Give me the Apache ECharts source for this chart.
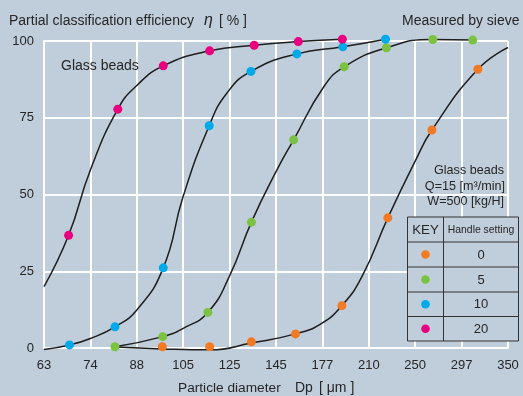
<!DOCTYPE html>
<html><head><meta charset="utf-8">
<script src="https://cdn.jsdelivr.net/npm/echarts@6/dist/echarts.min.js"></script>
<style>html,body{margin:0;padding:0;background:#c0cddb}#c{width:523px;height:396px}</style>
</head><body><div id="c"></div>
<script>
// x positions are in sieve-scale steps (0 = 63 µm, 10 = 350 µm); y = efficiency %
const xTickLabels = ['63','74','88','105','125','145','177','210','250','297','350'];
const handleSettings = ['0','5','10','20'];
const dotColors = ['#f37a24','#7cc242','#00a9e8','#e8007f'];

const points0  = [[2.55,0.4],[3.57,0.4],[4.47,2.0],[5.42,4.6],[6.42,13.8],[7.41,42.4],[8.36,71.0],[9.35,90.8]];
const points5  = [[1.53,0.4],[2.56,3.7],[3.53,11.6],[4.47,41.0],[5.38,67.8],[6.47,91.6],[7.38,97.8],[8.38,100.5],[9.24,100.3]];
const points10 = [[0.55,1.0],[1.53,6.9],[2.57,26.1],[3.56,72.4],[4.46,90.1],[5.45,95.8],[6.44,98.1],[7.36,100.6]];
const points20 = [[0.53,36.7],[1.59,77.8],[2.57,91.9],[3.57,96.8],[4.53,98.6],[5.48,99.8],[6.43,100.6]];

const curve0  = [[1.55,0.3],[2.55,-0.3],[3.57,-0.6],[4.47,1.6],[5.42,4.6],[5.96,7.8],[6.42,13.8],[6.86,23.5],[7.41,42.4],[8.01,61.2],[8.36,71.0],[9.35,90.8],[10,97.9]];
const curve5  = [[1.53,0.4],[2.56,3.7],[3.0,6.4],[3.53,11.6],[4.0,23.5],[4.47,41.0],[5.02,58.0],[5.38,67.8],[6.03,85.1],[6.47,91.6],[7.38,97.8],[8.38,100.5],[9.24,100.3]];
const curve10 = [[0,-0.5],[0.55,1.0],[1.0,3.1],[1.53,6.9],[2.0,12.4],[2.57,26.1],[3.0,49.4],[3.56,72.4],[3.94,83.0],[4.46,90.1],[5.45,95.8],[6.44,98.1],[7.36,100.6]];
const curve20 = [[0,20.0],[0.53,36.7],[1.0,58.0],[1.59,77.8],[2.0,85.5],[2.57,91.9],[3.57,96.8],[4.53,98.6],[5.48,99.8],[6.43,100.6]];

const pointSets = [points0, points5, points10, points20];
const curveSets = [curve0, curve5, curve10, curve20];

const BG = '#c0cddb';
const TXT = '#262626';
const FONT = '"Liberation Sans", Arial, sans-serif';

const series = [];
curveSets.forEach(function (c) {
  series.push({
    type: 'line', data: c, smooth: 0.5, showSymbol: false, clip: false,
    lineStyle: { color: '#1e1e1e', width: 1.5 }, z: 3, silent: true
  });
});
pointSets.forEach(function (p, i) {
  series.push({
    type: 'scatter', data: p, symbolSize: 9, clip: false,
    itemStyle: { color: dotColors[i], opacity: 1 }, z: 5
  });
});

function txt(x, y, text, size, align, extra) {
  return Object.assign({
    type: 'text', x: x, y: y, z: 20,
    style: { text: text, font: size + 'px ' + FONT, fill: TXT, align: align || 'left', textAlign: align || 'left', verticalAlign: 'middle', textVerticalAlign: 'middle' }
  }, extra || {});
}

const tblX = 407.5, tblY = 217, tblW = 111, colX = 443.5;
const rowYs = [217, 242, 267, 292, 316.5, 341];
const graphics = [
  txt(9, 21, 'Partial classification efficiency', 14),
  { type: 'text', x: 204, y: 21, z: 20, style: { text: 'η', font: 'italic 16px ' + FONT, fill: TXT, verticalAlign: 'middle', textVerticalAlign: 'middle' } },
  txt(219, 21, '[ % ]', 14),
  txt(519.5, 21, 'Measured by sieve', 14, 'right'),
  txt(61, 66, 'Glass beads', 14),
  txt(178, 388, 'Particle diameter', 13.7),
  txt(295, 388, 'Dp', 14),
  txt(319, 388, '[ μm ]', 14),
  txt(504, 171, 'Glass beads', 12.6, 'right'),
  txt(505, 186.5, 'Q=15 [m³/min]', 12.6, 'right'),
  txt(504, 202, 'W=500 [kg/H]', 12.6, 'right'),
  { type: 'rect', z: 15, shape: { x: tblX, y: tblY, width: tblW, height: rowYs[5] - tblY }, style: { fill: BG, stroke: '#333', lineWidth: 1 } },
  { type: 'line', z: 16, shape: { x1: colX, y1: tblY, x2: colX, y2: rowYs[5] }, style: { stroke: '#333', lineWidth: 1 } },
  txt(425.5, 230, 'KEY', 13.3, 'center'),
  txt(481, 230, 'Handle setting', 10.4, 'center')
];
for (let r = 1; r <= 4; r++) {
  graphics.push({ type: 'line', z: 16, shape: { x1: tblX, y1: rowYs[r], x2: tblX + tblW, y2: rowYs[r] }, style: { stroke: '#333', lineWidth: 1 } });
}
handleSettings.forEach(function (h, i) {
  const cy = (rowYs[i + 1] + rowYs[i + 2]) / 2;
  graphics.push({ type: 'circle', z: 17, shape: { cx: 425.5, cy: cy, r: 4.3 }, style: { fill: dotColors[i] } });
  graphics.push(txt(481, cy + 0.5, h, 13, 'center'));
});

const chart = echarts.init(document.getElementById('c'), null, { renderer: 'canvas' });
chart.setOption({
  backgroundColor: BG,
  animation: false,
  grid: { left: 44, right: 15, top: 41, bottom: 48 },
  xAxis: {
    type: 'value', min: 0, max: 10, interval: 1,
    axisLine: { show: true, lineStyle: { color: '#ffffff', width: 2 } },
    axisTick: { show: false },
    axisLabel: { color: TXT, fontSize: 13, fontFamily: FONT, margin: 11, formatter: function (v) { return xTickLabels[Math.round(v)] || ''; } },
    splitLine: { show: true, lineStyle: { color: '#ffffff', width: 2 } }
  },
  yAxis: {
    type: 'value', min: 0, max: 100, interval: 25,
    axisLine: { show: true, lineStyle: { color: '#ffffff', width: 2 } },
    axisTick: { show: false },
    axisLabel: { color: TXT, fontSize: 13, fontFamily: FONT, margin: 10 },
    splitLine: { show: true, lineStyle: { color: '#ffffff', width: 2 } }
  },
  series: series,
  graphic: graphics
});
</script>
</body></html>
